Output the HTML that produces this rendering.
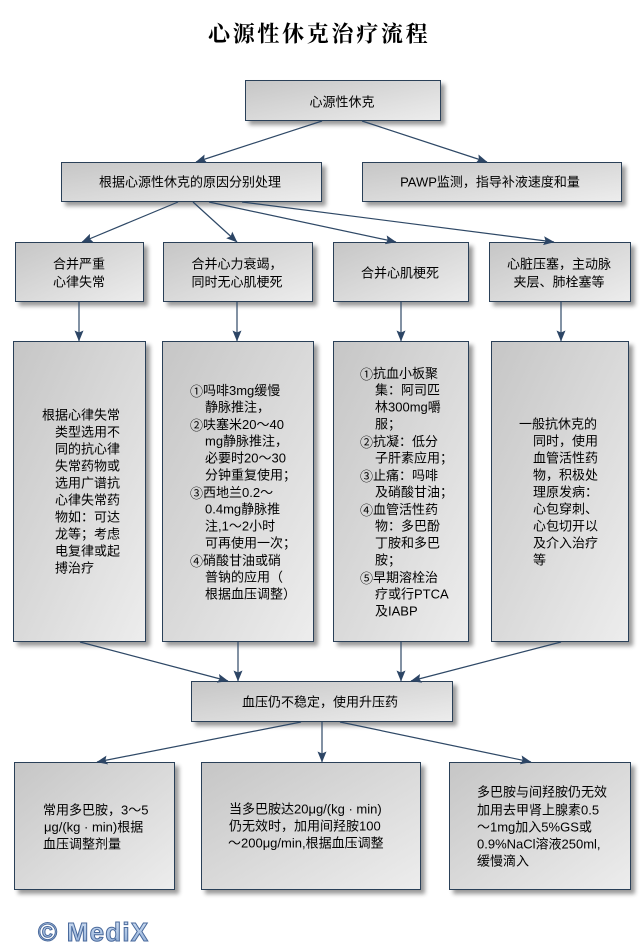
<!DOCTYPE html>
<html><head><meta charset="utf-8">
<style>
html,body{margin:0;padding:0;background:#fff;}
svg{display:block;}
text{font-family:"Liberation Sans","Noto Sans CJK SC",sans-serif;font-size:13px;fill:#000;}
.t{dominant-baseline:central;}
.c{text-anchor:middle;dominant-baseline:central;}
.n{font-family:"Noto Sans CJK SC","WenQuanYi Zen Hei",sans-serif;}
</style></head>
<body>
<svg width="642" height="942" viewBox="0 0 642 942" xmlns="http://www.w3.org/2000/svg">
<defs>
<linearGradient id="g" x1="0" y1="0" x2="1" y2="1">
<stop offset="0" stop-color="#c6c6c6"/>
<stop offset="1" stop-color="#ededed"/>
</linearGradient>
<linearGradient id="wm" x1="0" y1="0" x2="0" y2="1">
<stop offset="0" stop-color="#d6e4f6"/>
<stop offset="1" stop-color="#8aa9d4"/>
</linearGradient>
<filter id="sh" x="-10%" y="-10%" width="130%" height="130%">
<feGaussianBlur in="SourceAlpha" stdDeviation="2"/>
<feOffset dx="4" dy="4"/>
<feComponentTransfer><feFuncA type="linear" slope="0.4"/></feComponentTransfer>
<feMerge><feMergeNode/><feMergeNode in="SourceGraphic"/></feMerge>
</filter>
<marker id="ar" markerUnits="userSpaceOnUse" markerWidth="11" markerHeight="9" refX="10.5" refY="4.5" orient="auto" viewBox="0 0 11 9">
<path d="M0,0 L11,4.5 L0,9 L2,4.5 z" fill="#2c4565"/>
</marker>
</defs>

<!-- title -->
<text x="208" y="33" class="t" style="font-family:'Noto Serif CJK SC','Noto Sans CJK SC',serif;font-size:22px;font-weight:700;letter-spacing:2.7px;">心源性休克治疗流程</text>

<!-- boxes -->
<g fill="url(#g)" stroke="#2b3f58" stroke-width="1" filter="url(#sh)">
<rect x="245.5" y="80.5" width="195" height="40"/>
<rect x="61.5" y="162.5" width="260" height="39"/>
<rect x="362.5" y="162.5" width="259" height="39"/>
<rect x="15.5" y="242.5" width="128" height="59"/>
<rect x="163.5" y="242.5" width="149" height="59"/>
<rect x="333.5" y="242.5" width="135" height="59"/>
<rect x="489.5" y="242.5" width="141" height="59"/>
<rect x="13.5" y="341.5" width="132" height="300"/>
<rect x="162.5" y="341.5" width="151" height="300"/>
<rect x="333.5" y="341.5" width="135" height="300"/>
<rect x="491.5" y="341.5" width="137" height="300"/>
<rect x="191.5" y="681.5" width="261" height="40"/>
<rect x="14.5" y="762.5" width="160" height="127"/>
<rect x="201.5" y="762.5" width="219" height="127"/>
<rect x="449.5" y="762.5" width="181" height="127"/>
</g>

<!-- connectors -->
<g stroke="#2e4866" stroke-width="1.2" fill="none" marker-end="url(#ar)">
<line x1="322" y1="121" x2="196" y2="162"/>
<line x1="362" y1="121" x2="487" y2="162"/>
<line x1="178" y1="202" x2="82" y2="242"/>
<line x1="193" y1="202" x2="237" y2="242"/>
<line x1="209" y1="202" x2="396" y2="242"/>
<line x1="242" y1="202" x2="554" y2="242"/>
<line x1="79" y1="302" x2="79" y2="341"/>
<line x1="237" y1="302" x2="237" y2="341"/>
<line x1="401" y1="302" x2="401" y2="341"/>
<line x1="561" y1="302" x2="561" y2="341"/>
<line x1="80" y1="642" x2="228" y2="681"/>
<line x1="238" y1="642" x2="238" y2="681"/>
<line x1="401" y1="642" x2="401" y2="681"/>
<line x1="561" y1="642" x2="411" y2="681"/>
<line x1="301" y1="722" x2="97" y2="762"/>
<line x1="322" y1="722" x2="322" y2="762"/>
<line x1="340" y1="722" x2="531" y2="762"/>
</g>

<!-- top rows text -->
<text x="342" y="102" class="c">心源性休克</text>
<text x="190" y="182" class="c">根据心源性休克的原因分别处理</text>
<text x="490" y="182" class="c">PAWP监测，指导补液速度和量</text>
<text x="79" y="264" class="c">合并严重</text>
<text x="79" y="282" class="c">心律失常</text>
<text x="237" y="264" class="c">合并心力衰竭，</text>
<text x="237" y="282" class="c">同时无心肌梗死</text>
<text x="400" y="273" class="c">合并心肌梗死</text>
<text x="559" y="264" class="c">心脏压塞，主动脉</text>
<text x="559" y="282" class="c">夹层、肺栓塞等</text>

<!-- column 1 -->
<text x="42" y="415" class="t">根据心律失常</text>
<text x="55" y="432" class="t">类型选用不</text>
<text x="55" y="449" class="t">同的抗心律</text>
<text x="55" y="466" class="t">失常药物或</text>
<text x="55" y="483" class="t">选用广谱抗</text>
<text x="55" y="500" class="t">心律失常药</text>
<text x="55" y="517" class="t">物如：可达</text>
<text x="55" y="534" class="t">龙等；考虑</text>
<text x="55" y="551" class="t">电复律或起</text>
<text x="55" y="568" class="t">搏治疗</text>

<!-- column 2 -->
<text x="190" y="390" class="t"><tspan class="n">①</tspan><tspan x="203">吗啡3mg缓慢</tspan></text>
<text x="205" y="407" class="t">静脉推注，</text>
<text x="190" y="424" class="t"><tspan class="n">②</tspan><tspan x="203">呋塞米20～40</tspan></text>
<text x="205" y="441" class="t">mg静脉推注，</text>
<text x="205" y="458" class="t">必要时20～30</text>
<text x="205" y="475" class="t">分钟重复使用；</text>
<text x="190" y="492" class="t"><tspan class="n">③</tspan><tspan x="203">西地兰0.2～</tspan></text>
<text x="205" y="509" class="t">0.4mg静脉推</text>
<text x="205" y="526" class="t">注,1～2小时</text>
<text x="205" y="543" class="t">可再使用一次；</text>
<text x="190" y="560" class="t"><tspan class="n">④</tspan><tspan x="203">硝酸甘油或硝</tspan></text>
<text x="205" y="577" class="t">普钠的应用（</text>
<text x="205" y="594" class="t">根据血压调整）</text>

<!-- column 3 -->
<text x="360" y="373" class="t"><tspan class="n">①</tspan><tspan x="373">抗血小板聚</tspan></text>
<text x="375" y="390" class="t">集：阿司匹</text>
<text x="375" y="407" class="t">林300mg嚼</text>
<text x="375" y="424" class="t">服；</text>
<text x="360" y="441" class="t"><tspan class="n">②</tspan><tspan x="373">抗凝：低分</tspan></text>
<text x="375" y="458" class="t">子肝素应用；</text>
<text x="360" y="475" class="t"><tspan class="n">③</tspan><tspan x="373">止痛：吗啡</tspan></text>
<text x="375" y="492" class="t">及硝酸甘油；</text>
<text x="360" y="509" class="t"><tspan class="n">④</tspan><tspan x="373">血管活性药</tspan></text>
<text x="375" y="526" class="t">物：多巴酚</text>
<text x="375" y="543" class="t">丁胺和多巴</text>
<text x="375" y="560" class="t">胺；</text>
<text x="360" y="577" class="t"><tspan class="n">⑤</tspan><tspan x="373">早期溶栓治</tspan></text>
<text x="375" y="594" class="t">疗或行PTCA</text>
<text x="375" y="611" class="t">及IABP</text>

<!-- column 4 -->
<text x="519" y="424" class="t">一般抗休克的</text>
<text x="533" y="441" class="t">同时，使用</text>
<text x="533" y="458" class="t">血管活性药</text>
<text x="533" y="475" class="t">物，积极处</text>
<text x="533" y="492" class="t">理原发病：</text>
<text x="533" y="509" class="t">心包穿刺、</text>
<text x="533" y="526" class="t">心包切开以</text>
<text x="533" y="543" class="t">及介入治疗</text>
<text x="533" y="560" class="t">等</text>

<!-- middle -->
<text x="320" y="702" class="c">血压仍不稳定，使用升压药</text>

<!-- bottom boxes -->
<text x="43" y="810" class="t">常用多巴胺，3～5</text>
<text x="44" y="827" class="t">μg/(kg · min)根据</text>
<text x="43" y="844" class="t">血压调整剂量</text>

<text x="229" y="809" class="t">当多巴胺达20μg/(kg · min)</text>
<text x="229" y="826" class="t">仍无效时，加用间羟胺100</text>
<text x="228" y="843" class="t">～200μg/min,根据血压调整</text>

<text x="477" y="792" class="t">多巴胺与间羟胺仍无效</text>
<text x="477" y="810" class="t">加用去甲肾上腺素0.5</text>
<text x="477" y="827" class="t">～1mg加入5%GS或</text>
<text x="477" y="844" class="t">0.9%NaCl溶液250ml,</text>
<text x="477" y="861" class="t">缓慢滴入</text>

<!-- watermark -->
<text x="38" y="941" style="font-family:'Liberation Sans',sans-serif;font-size:26px;font-weight:700;letter-spacing:1.2px;fill:url(#wm);stroke:#4a6a9c;stroke-width:1px;">© MediX</text>
</svg>
</body></html>
